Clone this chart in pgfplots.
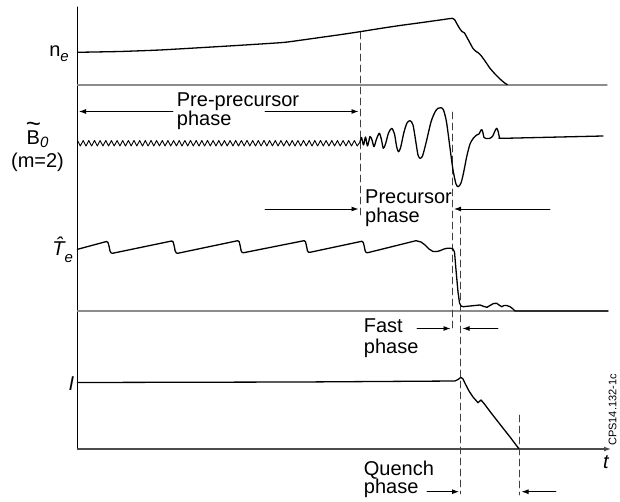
\documentclass[border=0pt]{standalone}
\usepackage{pgfplots}
\pgfplotsset{compat=1.18}
\usepackage{fontspec}
\setmainfont{Liberation Sans}
\usetikzlibrary{arrows.meta}
\newcommand{\lbl}{\fontsize{20}{21}\selectfont}
\newcommand{\sbs}{\fontsize{15}{15}\selectfont}
\newcommand{\wideB}{\setbox0\hbox{B}\rlap{\raisebox{12.5pt}[0pt][0pt]{\makebox[\wd0]{\fontsize{26}{26}\selectfont\textasciitilde}}}B}
\begin{document}
\begin{tikzpicture}
\begin{axis}[name=ax, width=620pt, height=502pt, scale only axis,
  xmin=0, xmax=620, ymin=0, ymax=502, y dir=reverse, hide axis, clip=false,
  every axis plot/.append style={line join=round, line cap=round}]
% frame axes and baselines
\addplot[draw=none] coordinates {(0,0)(620,502)};
\addplot[black, line width=1pt] coordinates {(77.5,7)(77.5,449)};
\addplot[gray!90, line width=1.3pt] coordinates {(77.5,85)(607,85)};
\addplot[gray!90, line width=1.3pt] coordinates {(77.5,311)(608,311)};
\addplot[gray!60!black, line width=1.2pt, -{Latex[length=7pt,width=5pt]}] coordinates {(77.5,449)(611,449)};
% dashed markers
\addplot[black!75, line width=0.9pt, dash pattern=on 7pt off 4pt] coordinates {(360,32)(360,216)};
\addplot[black!75, line width=0.9pt, dash pattern=on 7pt off 4pt] coordinates {(452,112)(452,330)};
\addplot[black!75, line width=0.9pt, dash pattern=on 7pt off 4pt] coordinates {(460.5,216)(460.5,494)};
\addplot[black!75, line width=0.9pt, dash pattern=on 7pt off 4pt] coordinates {(519.5,415)(519.5,495)};
% n_e
\addplot[black, line width=1.3pt, smooth, tension=0.3] coordinates {
(77.5,52.3)(120,51.5)(160,50)(200,47.7)(240,45.3)(283,42.5)(300,40.3)(320,37.5)(340,34.7)(360,31.7)(380,28.5)(400,25.5)(420,22.8)(440,20)(452.3,18.3)(454.5,19.5)(457,24)(460,29)(462,31.5)(464.5,33)(467,37.5)(470,43)(473,48.5)(475.5,51)(478.5,53)(481,55.5)(485,61)(490,68.3)(495,74)(500,79)(504,82.5)(507.3,84.7)};
% B0 pre-precursor zigzag
\addplot[black, line width=0.9pt] coordinates {
(77.5,140.5)(80.3,146)(83.2,140.5)(86.0,146)(88.8,140.5)(91.6,146)(94.5,140.5)(97.3,146)(100.1,140.5)(102.9,146)
(105.8,140.5)(108.6,146)(111.4,140.5)(114.2,146)(117.1,140.5)(119.9,146)(122.7,140.5)(125.5,146)(128.4,140.5)(131.2,146)
(134.0,140.5)(136.8,146)(139.7,140.5)(142.5,146)(145.3,140.5)(148.1,146)(151.0,140.5)(153.8,146)(156.6,140.5)(159.4,146)
(162.3,140.5)(165.1,146)(167.9,140.5)(170.7,146)(173.6,140.5)(176.4,146)(179.2,140.5)(182.0,146)(184.9,140.5)(187.7,146)
(190.5,140.5)(193.3,146)(196.2,140.5)(199.0,146)(201.8,140.5)(204.6,146)(207.5,140.5)(210.3,146)(213.1,140.5)(215.9,146)
(218.8,140.5)(221.6,146)(224.4,140.5)(227.2,146)(230.1,140.5)(232.9,146)(235.7,140.5)(238.5,146)(241.4,140.5)(244.2,146)
(247.0,140.5)(249.8,146)(252.7,140.5)(255.5,146)(258.3,140.5)(261.1,146)(264.0,140.5)(266.8,146)(269.6,140.5)(272.4,146)
(275.3,140.5)(278.1,146)(280.9,140.5)(283.7,146)(286.6,140.5)(289.4,146)(292.2,140.5)(295.0,146)(297.9,140.5)(300.7,146)
(303.5,140.5)(306.3,146)(309.2,140.5)(312.0,146)(314.8,140.5)(317.6,146)(320.5,140.5)(323.3,146)(326.1,140.5)(328.9,146)
(331.8,140.5)(334.6,146)(337.4,140.5)(340.2,146)(343.1,140.5)(345.9,146)(348.7,140.5)(351.5,146)(354.4,140.5)(357.2,146)(360.0,142)};
% B0 precursor
\addplot[black, line width=1.3pt, smooth, tension=0.45] coordinates {
(360,142)(361.5,137.5)(363.5,145)(365.5,137)(367.5,146)(370,136.5)(372,140)(374,146.7)(376.5,139)(379.3,133.3)(381.3,139)(383.3,148.3)(385.5,144)(388.5,133)(391.7,128.3)(394.5,134)(396.5,146)(398.3,151.7)(400.5,148)(404,132)(407,123)(410,120.7)(413,125)(416,143)(418,155)(420,158.3)(422.5,156)(426,143)(431,122)(435,112)(438,108.3)(441,107.7)(443.5,110)(446.5,122)(450,148)(453,170)(456,184)(458.3,186.7)(461,183)(463.5,173)(466.7,156.7)(470,144)(473.3,138.3)(476.7,135)(479,134)(481,130)(482,129.8)(483,133)(484,137.5)(486,138.5)(490,138.3)(492.5,136.5)(494.5,132)(496.5,128.3)(498,131)(499.5,137.5)(501,138.3)(530,137.7)(603,136)};
% T_e
\addplot[black, line width=1.3pt] coordinates {
(77.5,249.3)
(106.5,241.5)(108,242.5)(109,246)(110,251)(111,252.8)(112.5,253.3)
(171.7,241)(173.2,242)(174.2,246)(175.2,251)(176.2,252.8)(177.7,253.3)
(237.7,240.7)(239.2,241.7)(240.2,246)(241.2,251)(242.2,252.5)(243.7,252.7)
(304,240.7)(305.5,241.7)(306.5,246)(307.5,251)(308.5,252.2)(310,252.3)
(361.7,241.3)(363.2,242.3)(364.2,246)(365.2,251)(366.2,252.5)(367.7,252.7)
(416,240.7)(421,242)(425,245)(429,249)(433,251.5)(437,251.5)(440,250.7)(444,249)(447,248.3)(451,248.3)(453,249)(454.5,252)(456,270)(458,292)(459.5,303)(461,306)(463.3,306.7)(470,306)(475,305.5)(480,305)(484,306.5)(487,307.3)(490,305.5)(493.5,303.5)(496.7,303.3)(499,305)(501.7,306.7)(504,305.5)(506.7,305.5)(510,306.7)(512.5,308.5)(515,311)(608,311)};
% I
\addplot[black, line width=1.3pt] coordinates {
(77.5,382.5)(300,382)(455,381)(458,379.5)(461,377.3)(463,379)(465,383.3)(469,391)(473,397)(478,402.7)(481,400)(484,403.5)(490,411.5)(500,424.3)(510,437)(518.7,448.5)};
% phase arrows
\addplot[black, line width=0.9pt, -{Latex[length=7pt,width=5pt]}] coordinates {(173,111.5)(79,111.5)};
\addplot[black, line width=0.9pt, -{Latex[length=7pt,width=5pt]}] coordinates {(265,111.5)(358.5,111.5)};
\addplot[black, line width=0.9pt, -{Latex[length=7pt,width=5pt]}] coordinates {(265,209)(358.5,209)};
\addplot[black, line width=0.9pt, -{Latex[length=7pt,width=5pt]}] coordinates {(550,209)(454,209)};
\addplot[black, line width=0.9pt, -{Latex[length=7pt,width=5pt]}] coordinates {(417,328.5)(450.5,328.5)};
\addplot[black, line width=0.9pt, -{Latex[length=7pt,width=5pt]}] coordinates {(498,328.5)(462.5,328.5)};
\addplot[black, line width=0.9pt, -{Latex[length=7pt,width=5pt]}] coordinates {(427,491.7)(459,491.7)};
\addplot[black, line width=0.9pt, -{Latex[length=7pt,width=5pt]}] coordinates {(556,491.7)(521.5,491.7)};
% labels
\node[anchor=base west, font=\lbl, inner sep=0pt] at (176.7,106.7) {Pre-precursor};
\node[anchor=base west, font=\lbl, inner sep=0pt] at (176.7,126) {phase};
\node[anchor=base west, font=\lbl, inner sep=0pt] at (365,204) {Precursor};
\node[anchor=base west, font=\lbl, inner sep=0pt] at (365,222.5) {phase};
\node[anchor=base west, font=\lbl, inner sep=0pt] at (363.7,332.5) {Fast};
\node[anchor=base west, font=\lbl, inner sep=0pt] at (363.7,353) {phase};
\node[anchor=base west, font=\lbl, inner sep=0pt] at (363.7,475.5) {Quench};
\node[anchor=base west, font=\lbl, inner sep=0pt] at (363.7,493.5) {phase};
\node[anchor=base east, font=\lbl, inner sep=0pt] at (69,57) {n\raisebox{-5pt}{\sbs\itshape e}};
\node[anchor=base west, font=\lbl, inner sep=0pt] at (26.5,145) {\wideB\raisebox{-3pt}{\sbs\itshape 0}};
\node[anchor=base, font=\lbl, inner sep=0pt] at (37.5,168) {(m=2)};
\node[anchor=base west, font=\lbl, inner sep=0pt] at (52.2,255) {\itshape\^{T}\raisebox{-7pt}{\sbs e}};
\node[anchor=base east, font=\lbl, inner sep=0pt] at (74.5,390) {\itshape I};
\node[anchor=base, font=\lbl, inner sep=0pt] at (606,468) {\itshape t};
\node[rotate=90, inner sep=0pt, font=\fontsize{11}{12}\selectfont] at (612.5,410) {CPS14.132-1c};
\end{axis}
\pgfresetboundingbox
\path[use as bounding box] (ax.south west) rectangle (ax.north east);
\end{tikzpicture}
\end{document}
